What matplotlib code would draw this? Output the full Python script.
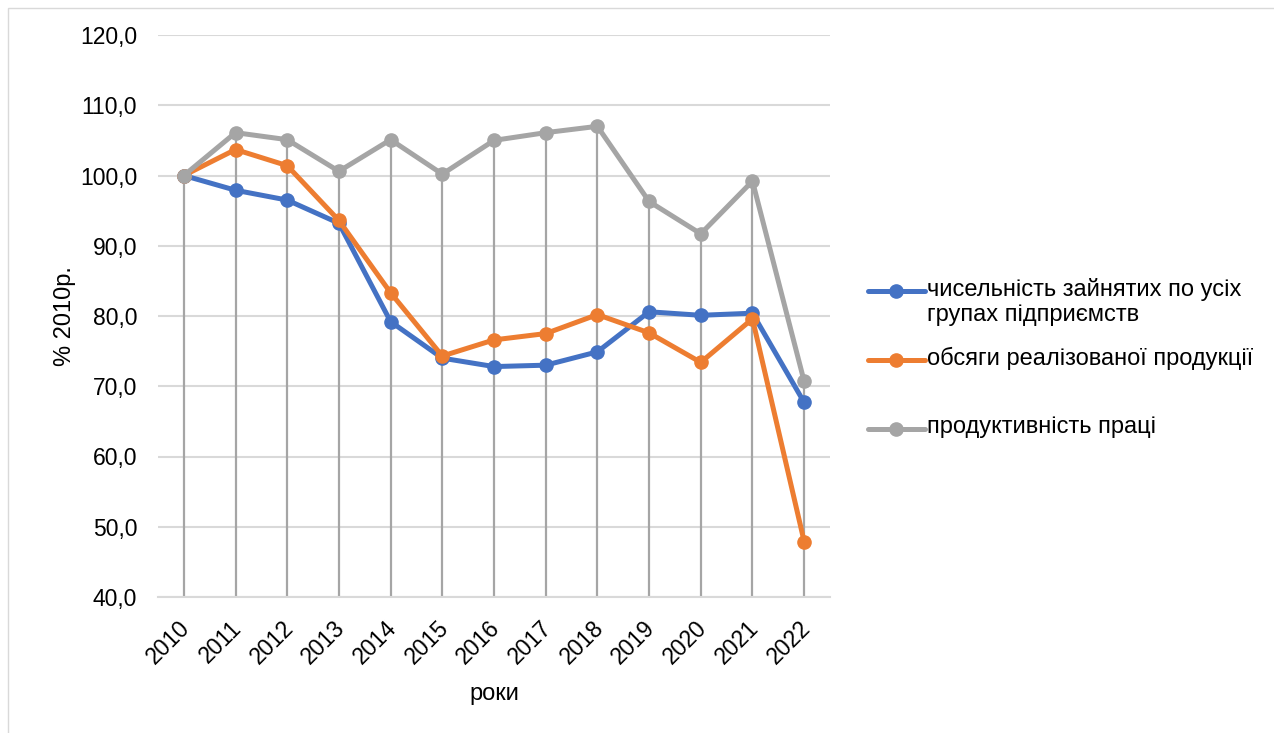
import matplotlib.pyplot as plt
from matplotlib.patches import Rectangle
from matplotlib.lines import Line2D
import matplotlib.transforms as mtransforms

plt.rcParams['font.family'] = ['Liberation Sans', 'DejaVu Sans']

years = ['2010', '2011', '2012', '2013', '2014', '2015', '2016',
         '2017', '2018', '2019', '2020', '2021', '2022']
employed = [100.0, 97.9, 96.5, 93.2, 79.2, 74.0, 72.8, 73.0, 74.9, 80.6, 80.1, 80.4, 67.7]
sales = [100.0, 103.7, 101.4, 93.6, 83.3, 74.3, 76.6, 77.5, 80.2, 77.6, 73.4, 79.6, 47.9]
productivity = [100.0, 106.1, 105.1, 100.6, 105.1, 100.2, 105.0, 106.1, 107.0, 96.3, 91.7, 99.2, 70.7]

labels = ['чисельність зайнятих по усіх\nгрупах підприємств',
          'обсяги реалізованої продукції',
          'продуктивність праці']
colors = ['#4472c4', '#ed7d31', '#a5a5a5']

W, H = 1274, 733
fig = plt.figure(figsize=(W / 100, H / 100), dpi=100)
fig.patches.append(Rectangle((8 / W, -0.01), 1.0, 1 - 8 / H + 0.01, transform=fig.transFigure,
                             fill=False, edgecolor='#d9d9d9', linewidth=1))
ax = fig.add_axes([158 / W, 136 / H, 672 / W, 562 / H])

x = list(range(len(years)))
ymin, ymax = 40, 120

# drop lines (Excel style) from the highest point down to the axis
tops = [max(a, b, c) for a, b, c in zip(employed, sales, productivity)]
ax.vlines(x, ymin, tops, color='#a5a5a5', linewidth=1.6, zorder=2)

for series, col in zip([employed, sales, productivity], colors):
    ax.plot(x, series, color=col, linewidth=3.6, marker='o', markersize=9.5,
            zorder=3, solid_capstyle='round')

ax.set_ylim(ymin, ymax)
ax.set_xlim(-0.5, len(years) - 0.5)
ax.set_yticks(range(40, 121, 10))
ax.set_yticklabels([f'{v:.1f}'.replace('.', ',') for v in range(40, 121, 10)], fontsize=16.5)
ax.set_xticks(x)
ax.set_xticklabels(years, rotation=45, fontsize=16.5, ha='right', rotation_mode='anchor')
ax.tick_params(axis='y', length=0, pad=15)
ax.tick_params(axis='x', length=0, pad=14)
offset = mtransforms.ScaledTranslation(-4 / 72, 0, fig.dpi_scale_trans)
for lab in ax.get_xticklabels():
    lab.set_transform(lab.get_transform() + offset)
ax.grid(axis='y', color='#d9d9d9', linewidth=1.5)
ax.set_axisbelow(True)
for s in ['top', 'right', 'left']:
    ax.spines[s].set_visible(False)
ax.spines['bottom'].set_color('#d9d9d9')
ax.spines['bottom'].set_linewidth(1.5)

ax.set_xlabel('роки', fontsize=17, labelpad=10)
ax.set_ylabel('% 2010р.', fontsize=17, labelpad=3)

# legend drawn by hand to follow the Excel layout
legend_y = [291, 360, 429]
for lab, col, yy in zip(labels, colors, legend_y):
    fy = 1 - yy / H
    fig.add_artist(Line2D([868 / W, 925 / W], [fy, fy], color=col, linewidth=3.6,
                          solid_capstyle='round', transform=fig.transFigure))
    fig.add_artist(Line2D([896 / W], [fy], color=col, marker='o', markersize=9.5,
                          transform=fig.transFigure))
    fig.text(927 / W, fy + 13 / H, lab, fontsize=17, va='top', ha='left',
             linespacing=1.15)

fig.savefig('out.png', dpi=100)
